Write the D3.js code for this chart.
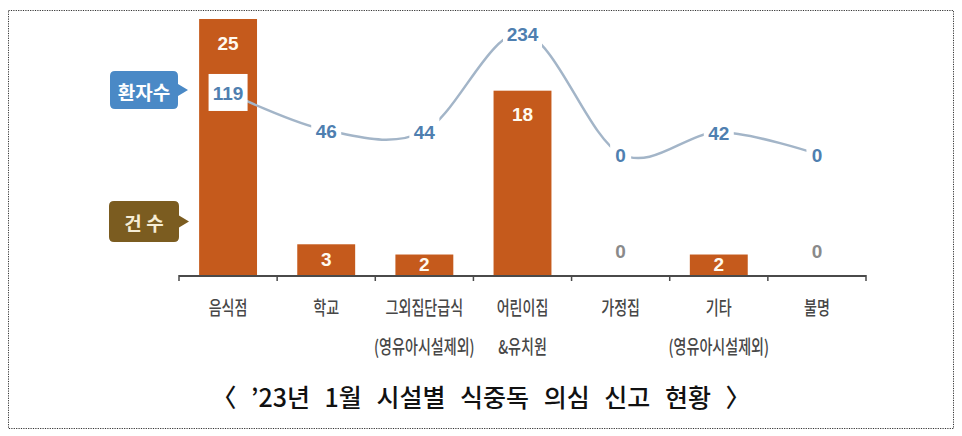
<!DOCTYPE html>
<html><head><meta charset="utf-8">
<script src="https://cdn.jsdelivr.net/npm/d3@7"></script>
<style>
html,body{margin:0;padding:0;background:#fff;}
svg{display:block;}
</style></head>
<body>
<svg id="chart" width="962" height="436"></svg>
<script>
// ---- data ----
const categories = ["음식점","학교","그외집단급식","어린이집","가정집","기타","불명"];
const subLabels  = ["","","(영유아시설제외)","&유치원","","(영유아시설제외)",""];
const caseCounts = [25,3,2,18,0,2,0];          // 건수 (bars)
const patientCounts = [119,46,44,234,0,42,0];  // 환자수 (line)
const title = "〈 ’23년 1월 시설별 식중독 의심 신고 현황 〉";
const seriesNames = ["환자수","건 수"];

const svg = d3.select("#chart");
const numFont = "'Liberation Sans Narrow','Arial Narrow','Liberation Sans',sans-serif";
const krFont = "'Noto Sans CJK KR','Noto Sans',sans-serif";

// border
svg.append("rect").attr("x",8.5).attr("y",10.5).attr("width",945).attr("height",418)
  .attr("fill","none").attr("stroke","#333").attr("stroke-width",1).attr("stroke-dasharray","1.2,1.2");

// scales
const x = d3.scaleBand().domain(categories).range([179,866]).paddingInner(0.41).paddingOuter(0.205);
const yBar = d3.scaleLinear().domain([0,25]).range([275,19]);
const yLine = d3.scaleLinear().domain([0,234]).range([154,33]);
const cx = c => x(c) + x.bandwidth()/2;

// bars
svg.append("g").selectAll("rect").data(categories).join("rect")
  .attr("x", d => x(d)).attr("width", x.bandwidth())
  .attr("y", (d,i) => yBar(caseCounts[i]))
  .attr("height", (d,i) => yBar(0) - yBar(caseCounts[i]))
  .attr("fill", "#c55a1c");

// axis
const gap = (x.step()-x.bandwidth())/2;
const bounds = categories.map(c => x(c)-gap).concat([x(categories[categories.length-1]) + x.bandwidth() + gap]);
const axisG = svg.append("g");
axisG.append("line").attr("x1",bounds[0]).attr("x2",bounds[bounds.length-1])
  .attr("y1",yBar(0)+1).attr("y2",yBar(0)+1).attr("stroke","#4a4a4a").attr("stroke-width",2);
axisG.selectAll("line.tick").data(bounds).join("line").attr("class","tick")
  .attr("x1",d=>d).attr("x2",d=>d).attr("y1",yBar(0)).attr("y2",yBar(0)+6)
  .attr("stroke","#4a4a4a").attr("stroke-width",1.5);

// bar labels
svg.append("g").selectAll("text").data(categories).join("text")
  .attr("x", d => cx(d))
  .attr("y", (d,i) => {
    const v = caseCounts[i];
    if (v === 0) return yBar(0) - 24;
    const top = yBar(v), base = yBar(0);
    return Math.min(top + 24, (top+base)/2);
  })
  .attr("text-anchor","middle").attr("dominant-baseline","central")
  .attr("font-family",numFont).attr("font-weight","bold").attr("font-size",19)
  .attr("fill",(d,i)=> caseCounts[i]===0 ? "#8a8a8a" : "#fffaf0")
  .text((d,i)=>caseCounts[i]);

// line
const pts = categories.map((c,i)=>[cx(c), yLine(patientCounts[i])]);
svg.append("path").datum(pts)
  .attr("d", d3.line().curve(d3.curveCatmullRom.alpha(0)))
  .attr("fill","none").attr("stroke","#a3b5c8").attr("stroke-width",2.5);

// line label boxes + labels
const lab = svg.append("g");
lab.selectAll("rect").data(pts).join("rect")
  .attr("x",(d,i)=> d[0] - (String(patientCounts[i]).length*9+12)/2)
  .attr("width",(d,i)=> String(patientCounts[i]).length*9+12)
  .attr("y", d => d[1]-18.5).attr("height",37).attr("fill","#fff");
lab.selectAll("text").data(pts).join("text")
  .attr("x",d=>d[0]).attr("y",d=>d[1]+1)
  .attr("text-anchor","middle").attr("dominant-baseline","central")
  .attr("font-family",numFont).attr("font-weight","bold").attr("font-size",19)
  .attr("fill","#4f7fb0")
  .text((d,i)=>patientCounts[i]);

// callouts
function callout(x0,y0,w,h,tipX,fill,txt,txtFill){
  const r=5, my=y0+h/2;
  const p = d3.path();
  p.moveTo(x0+r,y0); p.lineTo(x0+w-r,y0); p.quadraticCurveTo(x0+w,y0,x0+w,y0+r);
  p.lineTo(x0+w,my-6); p.lineTo(tipX,my); p.lineTo(x0+w,my+6);
  p.lineTo(x0+w,y0+h-r); p.quadraticCurveTo(x0+w,y0+h,x0+w-r,y0+h);
  p.lineTo(x0+r,y0+h); p.quadraticCurveTo(x0,y0+h,x0,y0+h-r);
  p.lineTo(x0,y0+r); p.quadraticCurveTo(x0,y0,x0+r,y0); p.closePath();
  svg.append("path").attr("d",p.toString()).attr("fill",fill);
  svg.append("text").attr("x",x0+w/2).attr("y",my+1).attr("text-anchor","middle")
    .attr("dominant-baseline","central").attr("font-family",krFont).attr("font-weight","bold")
    .attr("font-size",19).attr("fill",txtFill).text(txt);
}
callout(110,71,68,38,188,"#4a89c6",seriesNames[0],"#ffffff");
callout(109,201,70,41,189,"#7b5c20",seriesNames[1],"#f6edd5");

// category labels
const catG = svg.append("g");
categories.forEach((c,i)=>{
  catG.append("text").attr("transform",`translate(${cx(c)},307) scale(0.74,1)`)
    .attr("text-anchor","middle").attr("dominant-baseline","central")
    .attr("font-family",krFont).attr("font-weight",500).attr("font-size",19).attr("fill","#474747").text(c);
  if (subLabels[i]) catG.append("text").attr("transform",`translate(${cx(c)},346) scale(0.74,1)`)
    .attr("text-anchor","middle").attr("dominant-baseline","central")
    .attr("font-family",krFont).attr("font-weight",500).attr("font-size",19).attr("fill","#474747").text(subLabels[i]);
});

// title
svg.append("text").attr("x",481).attr("y",407).attr("text-anchor","middle")
  .attr("font-family",krFont).attr("font-weight",500).attr("font-size",25).attr("fill","#111")
  .attr("word-spacing",9).text(title);
</script>
</body></html>
